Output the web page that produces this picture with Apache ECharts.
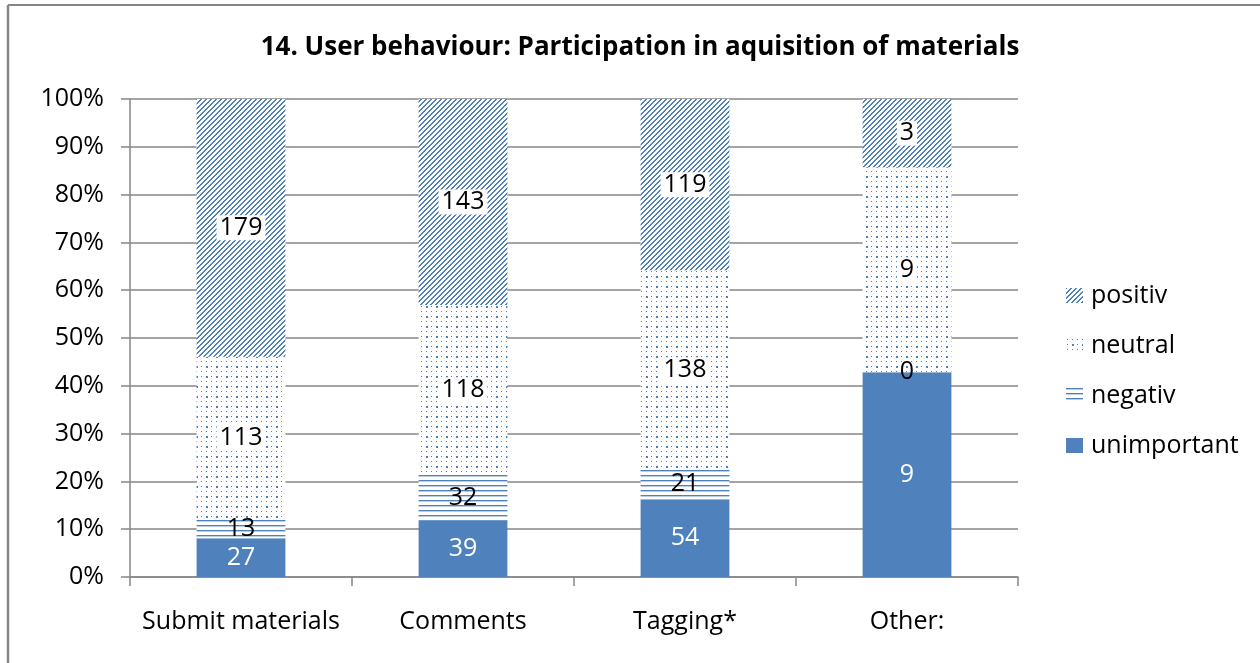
<!DOCTYPE html>
<html>
<head>
<meta charset="utf-8">
<script src="https://cdn.jsdelivr.net/npm/echarts@6/dist/echarts.min.js"></script>
<style>
html,body{margin:0;padding:0;background:#fff;}
#chart{width:1260px;height:663px;}
</style>
</head>
<body>
<div id="chart"></div>
<script>
// ---- data ----
const categories = ['Submit materials', 'Comments', 'Tagging*', 'Other:'];
const unimportant = [27, 39, 54, 9];
const negativ = [13, 32, 21, 0];
const neutral = [113, 118, 138, 9];
const positiv = [179, 143, 119, 3];
const yTickLabels = ['0%','10%','20%','30%','40%','50%','60%','70%','80%','90%','100%'];

const BLUE = '#4f81bd';
const FONT = '"Open Sans", "Noto Sans", sans-serif';

function makeTile(w, h, draw) {
  const c = document.createElement('canvas');
  c.width = w; c.height = h;
  const ctx = c.getContext('2d');
  ctx.fillStyle = '#fff';
  ctx.fillRect(0, 0, w, h);
  ctx.fillStyle = BLUE;
  draw(ctx);
  return { image: c, repeat: 'repeat' };
}
const patDiag = makeTile(5, 5, ctx => {
  for (let y = 0; y < 5; y++) {
    ctx.fillRect((4 - y + 5) % 5, y, 1, 1);
    ctx.fillRect((5 - y + 5) % 5, y, 1, 1);
  }
});
const patDots = makeTile(10, 10, ctx => {
  ctx.fillRect(1, 1, 1, 1); ctx.fillRect(6, 1, 1, 1);
  ctx.fillRect(1, 6, 1, 1); ctx.fillRect(6, 6, 2, 2);
});
const patLines = makeTile(4, 5, ctx => {
  ctx.fillRect(0, 0, 4, 1);
  ctx.globalAlpha = 0.4;
  ctx.fillRect(0, 1, 4, 1);
});

const totals = categories.map((_, i) => unimportant[i] + negativ[i] + neutral[i] + positiv[i]);
function pct(arr) { return arr.map((v, i) => ({ value: v / totals[i] * 100, raw: v })); }

function series(name, arr, fill, labelOpt) {
  return {
    name, type: 'bar', stack: 'all', barWidth: '40%',
    data: pct(arr),
    itemStyle: { color: fill },
    label: Object.assign({
      show: true, position: 'inside',
      fontFamily: FONT, fontSize: 25,
      formatter: p => p.data.raw
    }, labelOpt),
    emphasis: { disabled: true }
  };
}

const chart = echarts.init(document.getElementById('chart'), null, { renderer: 'canvas' });
chart.setOption({
  animation: false,
  backgroundColor: '#fff',
  title: {
    text: '14. User behaviour: Participation in aquisition of materials',
    left: 635, top: 30, textAlign: 'center',
    textStyle: { fontFamily: FONT, fontSize: 26, fontWeight: 'bold', color: '#000' }
  },
  grid: { left: 130, right: 242, top: 99, bottom: 86, containLabel: false },
  legend: {
    orient: 'vertical', left: 1061, top: 278,
    icon: 'rect',
    itemWidth: 17, itemHeight: 15, itemGap: 25,
    data: ['positiv', 'neutral', 'negativ', 'unimportant'],
    textStyle: { fontFamily: FONT, fontSize: 25, color: '#000', padding: [0, 0, 0, 3] },
    selectedMode: false
  },
  xAxis: {
    type: 'category', data: categories,
    axisLine: { lineStyle: { color: '#868686', width: 1.5 } },
    axisTick: { show: true, length: 9, lineStyle: { color: '#868686', width: 1.5 } },
    axisLabel: { fontFamily: FONT, fontSize: 25, color: '#000', margin: 32, interval: 0 }
  },
  yAxis: {
    type: 'value', min: 0, max: 100, interval: 10,
    axisLine: { show: true, lineStyle: { color: '#868686', width: 1.5 } },
    axisTick: { show: true, length: 9, lineStyle: { color: '#868686', width: 1.5 } },
    splitLine: { lineStyle: { color: '#868686', width: 1.5 } },
    axisLabel: {
      fontFamily: FONT, fontSize: 25, color: '#000', margin: 26,
      formatter: v => yTickLabels[Math.round(v / 10)]
    }
  },
  series: [
    series('unimportant', unimportant, BLUE, { color: '#fff' }),
    series('negativ', negativ, patLines, { color: '#000' }),
    series('neutral', neutral, patDots, { color: '#000', backgroundColor: '#fff', padding: [0, 3] }),
    series('positiv', positiv, patDiag, { color: '#000', backgroundColor: '#fff', padding: [0, 3] })
  ],
  graphic: [
    { type: 'line', shape: { x1: 8, y1: 5, x2: 1260, y2: 5 }, style: { stroke: '#868686', lineWidth: 2 } },
    { type: 'line', shape: { x1: 8, y1: 5, x2: 8, y2: 663 }, style: { stroke: '#868686', lineWidth: 2.5 } }
  ]
});
</script>
</body>
</html>
